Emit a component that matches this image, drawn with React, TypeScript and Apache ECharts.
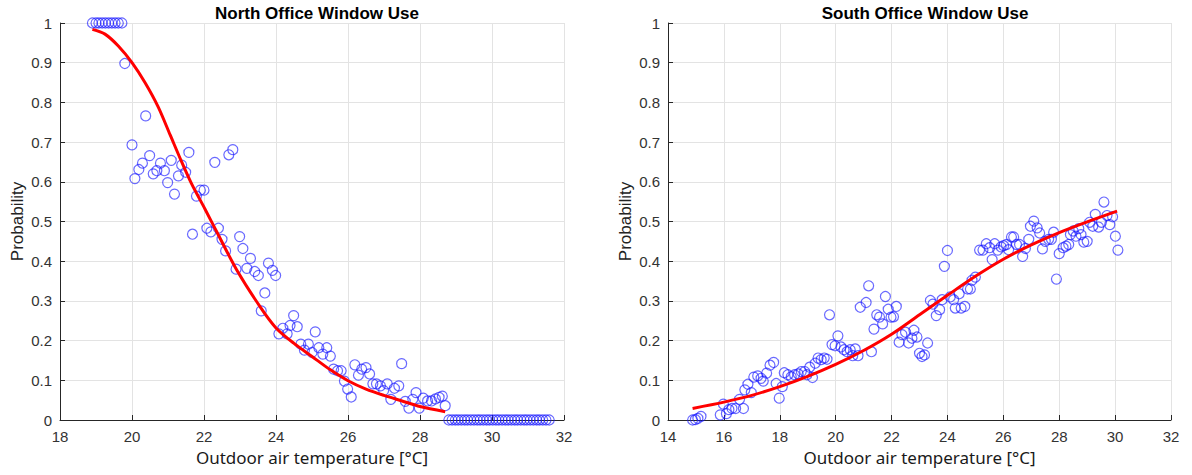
import React, { useEffect, useRef } from "react";
import * as echarts from "echarts";

const northTitle = "North Office Window Use";
const southTitle = "South Office Window Use";
const xName = "Outdoor air temperature [°C]";
const yName = "Probability";

const northPoints: [number, number][] = [
  [18.9, 1], [19.0, 1], [19.08, 1], [19.17, 1], [19.26, 1], [19.35, 1], [19.44, 1], [19.53, 1], [19.62, 1], [19.72, 1],
  [19.8, 0.898], [20.0, 0.693], [20.08, 0.608], [20.19, 0.631], [20.29, 0.647], [20.38, 0.766], [20.49, 0.666],
  [20.59, 0.62], [20.69, 0.628], [20.79, 0.647], [20.9, 0.628], [20.99, 0.598], [21.09, 0.654], [21.18, 0.569],
  [21.29, 0.615], [21.38, 0.642], [21.49, 0.624], [21.58, 0.674], [21.68, 0.468], [21.79, 0.564], [21.9, 0.579],
  [22.0, 0.579], [22.08, 0.483], [22.19, 0.474], [22.3, 0.649], [22.4, 0.483], [22.5, 0.455], [22.6, 0.426],
  [22.69, 0.668], [22.8, 0.681], [22.89, 0.38], [22.99, 0.462], [23.08, 0.432], [23.19, 0.382], [23.29, 0.407],
  [23.41, 0.374], [23.51, 0.364], [23.59, 0.275], [23.69, 0.32], [23.79, 0.395], [23.9, 0.377], [23.99, 0.364],
  [24.08, 0.217], [24.19, 0.231], [24.31, 0.217], [24.39, 0.238], [24.49, 0.263], [24.59, 0.235], [24.69, 0.191],
  [24.79, 0.176], [24.9, 0.191], [25.0, 0.17], [25.09, 0.222], [25.19, 0.182], [25.3, 0.166], [25.41, 0.182],
  [25.51, 0.161], [25.6, 0.128], [25.71, 0.124], [25.81, 0.124], [25.9, 0.098], [25.99, 0.078], [26.09, 0.058],
  [26.19, 0.139], [26.29, 0.113], [26.38, 0.128], [26.5, 0.132], [26.6, 0.116], [26.69, 0.091], [26.79, 0.091],
  [26.9, 0.086], [26.99, 0.074], [27.09, 0.091], [27.19, 0.052], [27.29, 0.08], [27.41, 0.086], [27.49, 0.142],
  [27.59, 0.047], [27.69, 0.03], [27.8, 0.052], [27.89, 0.069], [27.98, 0.03], [28.09, 0.055], [28.21, 0.048],
  [28.32, 0.048], [28.43, 0.053], [28.53, 0.057], [28.62, 0.06], [28.7, 0.036],
  [28.8, 0], [28.89, 0], [28.98, 0], [29.06, 0], [29.15, 0], [29.24, 0], [29.32, 0], [29.41, 0], [29.5, 0],
  [29.59, 0], [29.67, 0], [29.76, 0], [29.85, 0], [29.93, 0], [30.02, 0], [30.11, 0], [30.19, 0], [30.28, 0],
  [30.37, 0], [30.45, 0], [30.54, 0], [30.63, 0], [30.71, 0], [30.8, 0], [30.89, 0], [30.97, 0], [31.06, 0],
  [31.15, 0], [31.24, 0], [31.32, 0], [31.41, 0], [31.5, 0], [31.59, 0],
];

const northFit: [number, number][] = [
  [18.9, 0.984], [19.25, 0.972], [19.62, 0.942], [20.0, 0.9], [20.36, 0.85], [20.73, 0.788], [21.06, 0.718],
  [21.38, 0.65], [21.66, 0.594], [22.03, 0.531], [22.4, 0.466], [22.91, 0.378], [23.56, 0.285], [24.0, 0.232],
  [24.5, 0.193], [25.0, 0.16], [25.5, 0.127], [26.0, 0.099], [26.5, 0.078], [27.0, 0.062], [27.5, 0.048],
  [28.0, 0.034], [28.7, 0.021],
];

const southPoints: [number, number][] = [
  [14.88, 0], [14.98, 0.001], [15.07, 0.004], [15.18, 0.009], [15.87, 0.013], [15.98, 0.04], [16.09, 0.016],
  [16.18, 0.026], [16.29, 0.029], [16.42, 0.029], [16.56, 0.052], [16.7, 0.029], [16.75, 0.076], [16.86, 0.09],
  [16.98, 0.069], [17.07, 0.108], [17.21, 0.111], [17.33, 0.105], [17.41, 0.098], [17.53, 0.118], [17.65, 0.138],
  [17.78, 0.145], [17.87, 0.092], [17.98, 0.055], [18.09, 0.084], [18.16, 0.119], [18.29, 0.114], [18.41, 0.109],
  [18.53, 0.114], [18.66, 0.116], [18.77, 0.122], [18.89, 0.122], [18.97, 0.114], [19.07, 0.133], [19.17, 0.107],
  [19.27, 0.143], [19.37, 0.156], [19.48, 0.152], [19.59, 0.156], [19.69, 0.153], [19.78, 0.265], [19.87, 0.19],
  [19.98, 0.187], [20.08, 0.212], [20.19, 0.184], [20.3, 0.177], [20.41, 0.172], [20.52, 0.177], [20.61, 0.162],
  [20.7, 0.179], [20.8, 0.162], [20.88, 0.284], [21.09, 0.296], [21.18, 0.338], [21.28, 0.172], [21.37, 0.229],
  [21.47, 0.265], [21.57, 0.259], [21.68, 0.242], [21.78, 0.311], [21.88, 0.279], [21.98, 0.259], [22.07, 0.26],
  [22.17, 0.286], [22.27, 0.196], [22.37, 0.215], [22.5, 0.221], [22.61, 0.194], [22.73, 0.206], [22.8, 0.226],
  [22.91, 0.209], [23.0, 0.168], [23.09, 0.16], [23.18, 0.164], [23.29, 0.194], [23.39, 0.301], [23.48, 0.292],
  [23.6, 0.263], [23.72, 0.278], [23.81, 0.303], [23.89, 0.387], [24.0, 0.427], [24.1, 0.31], [24.22, 0.303],
  [24.28, 0.282], [24.42, 0.318], [24.49, 0.282], [24.62, 0.286], [24.72, 0.33], [24.82, 0.33], [24.88, 0.352],
  [25.0, 0.36], [25.15, 0.428], [25.27, 0.428], [25.39, 0.444], [25.51, 0.434], [25.6, 0.404], [25.69, 0.444],
  [25.8, 0.428], [25.92, 0.436], [26.01, 0.439], [26.11, 0.442], [26.19, 0.429], [26.29, 0.461], [26.37, 0.461],
  [26.47, 0.442], [26.58, 0.442], [26.69, 0.412], [26.79, 0.432], [26.91, 0.455], [26.97, 0.488], [27.09, 0.501],
  [27.21, 0.484], [27.3, 0.471], [27.4, 0.431], [27.5, 0.45], [27.62, 0.455], [27.72, 0.455], [27.8, 0.473],
  [27.9, 0.355], [28.0, 0.419], [28.14, 0.434], [28.24, 0.438], [28.34, 0.442], [28.4, 0.467], [28.5, 0.476],
  [28.6, 0.463], [28.7, 0.482], [28.78, 0.467], [28.88, 0.448], [29.0, 0.45], [29.09, 0.498], [29.2, 0.488],
  [29.29, 0.518], [29.41, 0.486], [29.51, 0.498], [29.6, 0.549], [29.71, 0.515], [29.81, 0.492], [29.91, 0.512],
  [30.01, 0.463], [30.1, 0.428],
];

const southFit: [number, number][] = [
  [14.88, 0.029], [16.0, 0.045], [17.0, 0.062], [18.0, 0.084], [19.0, 0.11], [20.0, 0.14], [21.0, 0.175],
  [22.0, 0.216], [23.0, 0.265], [24.0, 0.314], [25.0, 0.362], [26.0, 0.405], [27.0, 0.441], [28.0, 0.472],
  [29.0, 0.499], [30.07, 0.526],
];

const northX = { min: 18, max: 32, interval: 2 };
const southX = { min: 14, max: 32, interval: 2 };
const yRange = { min: 0, max: 1, interval: 0.1 };

const tickFont = "'Liberation Sans', Arial, sans-serif";
const nameFont = "'Noto Sans', 'Open Sans', sans-serif";

function xAxisOf(idx: number, r: { min: number; max: number; interval: number }) {
  return {
    type: "value",
    gridIndex: idx,
    min: r.min,
    max: r.max,
    interval: r.interval,
    name: xName,
    nameLocation: "middle",
    nameGap: 29,
    nameTextStyle: { fontFamily: nameFont, fontSize: 17, color: "#1a1a1a" },
    axisLine: { show: true, onZero: false, lineStyle: { color: "#262626", width: 1 } },
    axisTick: { show: true, inside: true, length: 5, lineStyle: { color: "#262626" } },
    axisLabel: { fontFamily: tickFont, fontSize: 15, color: "#333", margin: 9 },
    splitLine: { show: true, lineStyle: { color: "#e3e3e3", width: 1 } },
  };
}

function yAxisOf(idx: number) {
  return {
    type: "value",
    gridIndex: idx,
    min: yRange.min,
    max: yRange.max,
    interval: yRange.interval,
    name: yName,
    nameLocation: "middle",
    nameGap: 34,
    nameTextStyle: { fontFamily: tickFont, fontSize: 17, color: "#222" },
    axisLine: { show: true, onZero: false, lineStyle: { color: "#262626", width: 1 } },
    axisTick: { show: true, inside: true, length: 5, lineStyle: { color: "#262626" } },
    axisLabel: {
      fontFamily: tickFont,
      fontSize: 15,
      color: "#333",
      margin: 8,
      formatter: (v: number) => String(Math.round(v * 10) / 10),
    },
    splitLine: { show: true, lineStyle: { color: "#e3e3e3", width: 1 } },
  };
}

function scatterOf(idx: number, data: [number, number][]) {
  return {
    type: "scatter",
    xAxisIndex: idx,
    yAxisIndex: idx,
    data,
    symbol: "circle",
    symbolSize: 10,
    itemStyle: { color: "rgba(0,0,0,0)", borderColor: "rgba(20,20,255,0.8)", borderWidth: 1.2 },
    z: 2,
  };
}

function fitOf(idx: number, data: [number, number][]) {
  return {
    type: "line",
    xAxisIndex: idx,
    yAxisIndex: idx,
    data,
    smooth: 0.3,
    showSymbol: false,
    symbol: "none",
    lineStyle: { color: "#ff0000", width: 3 },
    z: 3,
  };
}

export default function App() {
  const ref = useRef<HTMLDivElement>(null);
  useEffect(() => {
    if (!ref.current) return;
    const chart = echarts.init(ref.current, undefined, { renderer: "svg" });
    chart.setOption({
      animation: false,
      backgroundColor: "#ffffff",
      title: [
        {
          text: northTitle,
          left: 312,
          textAlign: "center",
          top: 0,
          textStyle: { fontFamily: tickFont, fontSize: 17, fontWeight: "bold", color: "#000" },
        },
        {
          text: southTitle,
          left: 920,
          textAlign: "center",
          top: 0,
          textStyle: { fontFamily: tickFont, fontSize: 17, fontWeight: "bold", color: "#000" },
        },
      ],
      grid: [
        { left: 60, top: 23, width: 504, height: 397 },
        { left: 668, top: 23, width: 503, height: 397 },
      ],
      xAxis: [xAxisOf(0, northX), xAxisOf(1, southX)],
      yAxis: [yAxisOf(0), yAxisOf(1)],
      series: [
        scatterOf(0, northPoints),
        fitOf(0, northFit),
        scatterOf(1, southPoints),
        fitOf(1, southFit),
      ],
    });
    return () => chart.dispose();
  }, []);
  return (
    <div
      ref={ref}
      style={{ position: "fixed", left: 0, top: 0, width: 1192, height: 475, background: "#fff" }}
    />
  );
}
